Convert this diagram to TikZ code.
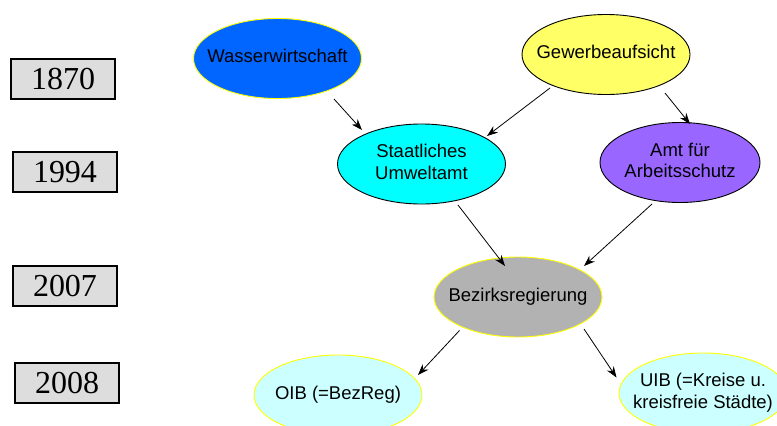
\documentclass[tikz,border=0pt]{standalone}
\usepackage{fontspec}
\setmainfont{Liberation Sans}
\newfontfamily\yearfont{Liberation Serif}
\usetikzlibrary{shapes.geometric,arrows.meta}
\definecolor{boxgray}{HTML}{DDDDDD}
\definecolor{wblue}{HTML}{0066FF}
\definecolor{gyellow}{HTML}{FFFF66}
\definecolor{scyan}{HTML}{00FFFF}
\definecolor{apurple}{HTML}{9966FF}
\definecolor{bgray}{HTML}{B2B2B2}
\definecolor{lcyan}{HTML}{CCFFFF}
\definecolor{yborder}{HTML}{FFFF00}
\newcommand{\ctext}[1]{\makebox[0pt]{\begin{tabular}{@{}c@{}}#1\end{tabular}}}
\tikzset{
  yearbox/.style={draw=black, line width=1.2pt, fill=boxgray, minimum width=104pt,
    minimum height=40pt, inner sep=0pt, font=\yearfont\fontsize{32}{38}\selectfont},
  ell/.style={ellipse, inner sep=0pt, minimum width=168pt, minimum height=80pt,
    line width=0.9pt, font=\fontsize{18.5}{21.5}\selectfont},
  arr/.style={-{Stealth[length=11pt,width=8pt]}, line width=0.8pt, black}
}
\begin{document}
\begin{tikzpicture}[x=1pt,y=-1pt]
\useasboundingbox (0,0) rectangle (777,426);
\fill[white] (0,0) rectangle (777,426);
\clip (0,0) rectangle (777,426);

\node[yearbox] (y1870) at (63,79) {1870};
\node[yearbox] (y1994) at (65,172) {1994};
\node[yearbox] (y2007) at (65,286) {2007};
\node[yearbox] (y2008) at (67,383) {2008};

\node[ell, fill=wblue, draw=yborder] (wasser) at (277.5,58.5) {\ctext{Wasserwirtschaft}};
\node[ell, fill=gyellow, draw=black] (gew) at (606,54.5) {\ctext{Gewerbeaufsicht}};
\node[ell, fill=scyan, draw=black] (stu) at (421.5,164) {\ctext{Staatliches\\Umweltamt}};
\node[ell, fill=apurple, draw=black, minimum width=160pt] (amt) at (680,162.5) {\ctext{Amt für\\Arbeitsschutz}};
\node[ell, fill=bgray, draw=yborder] (bez) at (518,297) {\ctext{Bezirksregierung}};
\node[ell, fill=lcyan, draw=yborder] (oib) at (338,395) {\ctext{OIB (=BezReg)}};
\node[ell, fill=lcyan, draw=yborder] (uib) at (703,393) {\ctext{UIB (=Kreise u.\\kreisfreie Städte)}};

\draw[arr] ([shift={(56.5,40.5)}]wasser.center) -- ([shift={(-59.5,-34)}]stu.center);
\draw[arr] ([shift={(-56,33.5)}]gew.center) -- ([shift={(65.5,-28)}]stu.center);
\draw[arr] ([shift={(59,38.5)}]gew.center) -- ([shift={(10,-38.5)}]amt.center);
\draw[arr] ([shift={(36.5,41)}]stu.center) -- ([shift={(-13,-31)}]bez.center);
\draw[arr] ([shift={(-28,41.5)}]amt.center) -- ([shift={(66,-31)}]bez.center);
\draw[arr] ([shift={(-58.5,33.5)}]bez.center) -- ([shift={(80,-20)}]oib.center);
\draw[arr] ([shift={(66,32)}]bez.center) -- ([shift={(-86.5,-15.5)}]uib.center);
\end{tikzpicture}
\end{document}
